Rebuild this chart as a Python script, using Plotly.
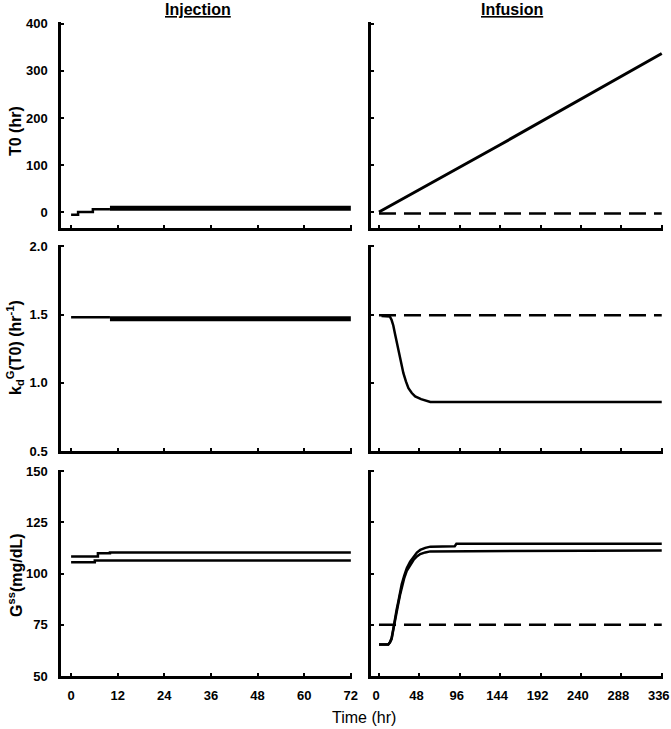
import plotly.graph_objects as go

# ---------------- data ----------------
# Injection panels (time 0-72 hr)
t_inj_T0_thin = [0, 1.8, 1.8, 5.6, 5.6, 10]
T0_inj_thin = [-6, -6, 0, 0, 6, 6]
t_inj_T0_thick = [10, 72]
T0_inj_thick = [8, 8]

t_inj_k_thin = [0, 10]
k_inj_thin = [1.48, 1.48]
t_inj_k_thick = [10, 72]
k_inj_thick = [1.47, 1.47]

t_inj_G_upper = [0, 6.9, 6.9, 10, 10, 72]
G_inj_upper = [108.3, 108.3, 109.9, 109.9, 110.3, 110.3]
t_inj_G_lower = [0, 6.1, 6.1, 72]
G_inj_lower = [105.5, 105.5, 106.3, 106.3]

# Infusion panels (time 0-336 hr)
t_inf_T0 = [0, 144, 336]
T0_inf = [0, 143, 337]
t_inf_T0_dash = [0, 336]
T0_inf_dash = [-3, -3]

t_inf_k = [3, 11, 13, 15, 17, 19, 21, 23, 25, 27, 29, 32, 35, 39, 43, 50, 57, 61, 336]
k_inf = [1.49, 1.49, 1.485, 1.46, 1.42, 1.36, 1.30, 1.23, 1.17, 1.11, 1.07, 1.01, 0.96, 0.925, 0.90, 0.88, 0.87, 0.86, 0.86]
t_inf_k_dash = [0, 336]
k_inf_dash = [1.495, 1.495]

t_inf_G_upper = [0, 11, 13, 15, 17, 19, 21, 23, 25, 27, 30, 33, 37, 41, 45, 49, 55, 61, 90, 92, 336]
G_inf_upper = [65.4, 65.4, 66.5, 68.6, 73.0, 78.3, 82.5, 86.4, 90.5, 94.7, 99.0, 102.6, 105.8, 108.3, 110.2, 111.5, 112.5, 113.1, 113.3, 114.5, 114.5]
t_inf_G_lower = [0, 11, 13, 15, 17, 19, 21, 23, 25, 27, 30, 33, 37, 41, 45, 49, 55, 61, 336]
G_inf_lower = [65.4, 65.4, 66.3, 68.0, 72.5, 77.5, 81.5, 85.5, 89.5, 93.5, 97.8, 101.3, 104.3, 106.6, 108.3, 109.5, 110.3, 110.8, 111.2]
t_inf_G_dash = [0, 336]
G_inf_dash = [75, 75]

x_inj_ticks = [0, 12, 24, 36, 48, 60, 72]
x_inf_ticks = [0, 48, 96, 144, 192, 240, 288, 336]
y_T0_ticks = [0, 100, 200, 300, 400]
y_k_ticks = [0.5, 1.0, 1.5, 2.0]
y_k_ticktext = ["0.5", "1.0", "1.5", "2.0"]
y_G_ticks = [50, 75, 100, 125, 150]

# ---------------- figure ----------------
W, H = 671, 729
fig = go.Figure()

def px_x(a, b):
    return [a / W, b / W]

def px_y(top, bottom):
    return [1 - bottom / H, 1 - top / H]

solid = dict(color="black", width=2.5)
thick = dict(color="black", width=5)
dashed = dict(color="black", width=2.5, dash="17px,8px")

def add(x, y, line, xa, ya):
    fig.add_trace(go.Scatter(x=x, y=y, mode="lines", line=line,
                             xaxis=xa, yaxis=ya, showlegend=False, hoverinfo="skip"))

# top row
add(t_inj_T0_thin, T0_inj_thin, solid, "x", "y")
add(t_inj_T0_thick, T0_inj_thick, thick, "x", "y")
add(t_inf_T0_dash, T0_inf_dash, dashed, "x2", "y2")
add(t_inf_T0, T0_inf, dict(color="black", width=3), "x2", "y2")
# middle row
add(t_inj_k_thin, k_inj_thin, solid, "x3", "y3")
add(t_inj_k_thick, k_inj_thick, thick, "x3", "y3")
add(t_inf_k_dash, k_inf_dash, dashed, "x4", "y4")
add(t_inf_k, k_inf, solid, "x4", "y4")
# bottom row
add(t_inj_G_upper, G_inj_upper, solid, "x5", "y5")
add(t_inj_G_lower, G_inj_lower, solid, "x5", "y5")
add(t_inf_G_dash, G_inf_dash, dashed, "x6", "y6")
add(t_inf_G_upper, G_inf_upper, solid, "x6", "y6")
add(t_inf_G_lower, G_inf_lower, solid, "x6", "y6")

tickfont = dict(family="Liberation Sans", size=13, color="black", weight="bold")
common = dict(showline=True, linewidth=2.5, linecolor="black", ticks="inside",
              ticklen=3, tickwidth=2, tickcolor="black", showgrid=False,
              zeroline=False, tickfont=tickfont, fixedrange=True, automargin=False)

left_x = px_x(61, 352)
right_x = px_x(371, 663)
rows = [px_y(22, 228), px_y(245, 451), px_y(470, 676)]

layout = dict(
    width=W, height=H, margin=dict(l=0, r=0, t=0, b=0, autoexpand=False),
    paper_bgcolor="white", plot_bgcolor="white", showlegend=False,
)

ranges_y = [[-34, 404], [0.5, 2.01], [50, 150.5]]
ticks_y = [y_T0_ticks, y_k_ticks, y_G_ticks]
ticktext_y = [[str(v) for v in y_T0_ticks], y_k_ticktext, [str(v) for v in y_G_ticks]]

for r in range(3):
    i_left = 2 * r + 1
    i_right = 2 * r + 2
    xl = "xaxis" if i_left == 1 else f"xaxis{i_left}"
    yl = "yaxis" if i_left == 1 else f"yaxis{i_left}"
    xr = f"xaxis{i_right}"
    yr = f"yaxis{i_right}"
    ya_l = "y" if i_left == 1 else f"y{i_left}"
    xa_l = "x" if i_left == 1 else f"x{i_left}"
    bottom = (r == 2)
    layout[xl] = dict(common, domain=left_x, anchor=ya_l, range=[-2.6, 72.3],
                      tickvals=x_inj_ticks, showticklabels=bottom, ticklabelstandoff=6)
    layout[xr] = dict(common, domain=right_x, anchor=f"y{i_right}", range=[-9.5, 337.5],
                      tickvals=x_inf_ticks, showticklabels=bottom, ticklabelstandoff=6,
                      ticklabelshift=-3)
    layout[yl] = dict(common, domain=rows[r], anchor=xa_l, range=ranges_y[r],
                      tickvals=ticks_y[r], ticktext=ticktext_y[r], ticklabelstandoff=8)
    layout[yr] = dict(common, domain=rows[r], anchor=f"x{i_right}", range=ranges_y[r],
                      tickvals=ticks_y[r], showticklabels=False)

fig.update_layout(**layout)

ann_font = dict(family="Liberation Sans", size=16, color="black", weight="bold")
annotations = [
    dict(text="<u>Injection</u>", x=198 / W, y=1 - 9 / H),
    dict(text="<u>Infusion</u>", x=512 / W, y=1 - 9 / H),
    dict(text="T0 (hr)", x=15 / W, y=1 - 131 / H, textangle=-90),
    dict(text="k<sub>d</sub><sup>G</sup>(T0) (hr<sup>-1</sup>)", x=15 / W, y=1 - 348 / H, textangle=-90),
    dict(text="G<sup>ss</sup>(mg/dL)", x=15 / W, y=1 - 575 / H, textangle=-90),
]
for a in annotations:
    fig.add_annotation(xref="paper", yref="paper", showarrow=False,
                       xanchor="center", yanchor="middle", font=ann_font, **a)
fig.add_annotation(xref="paper", yref="paper", showarrow=False, text="Time (hr)",
                   x=364 / W, y=1 - 717 / H, xanchor="center", yanchor="middle",
                   font=dict(family="Liberation Sans", size=16, color="black"))

fig.write_html("out.html", config={"displayModeBar": False},
               post_script="document.body.style.margin='0';")
